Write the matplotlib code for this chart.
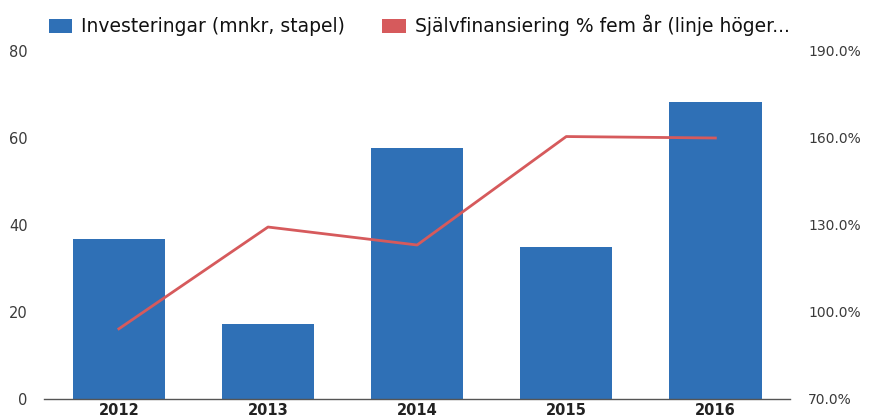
import matplotlib
matplotlib.use("Agg")
import matplotlib.pyplot as plt
from matplotlib.patches import Patch
import numpy as np

plt.rcParams['font.family'] = ['DejaVu Sans']

years = ['2012', '2013', '2014', '2015', '2016']
investeringar = [36.8, 17.2, 57.6, 34.9, 68.2]
sjalvfinansiering = [94.2, 129.3, 123.1, 160.5, 160.0]

bar_color = '#2f70b6'
line_color = '#d65a5c'
text_color = '#3a3a3a'

fig = plt.figure(figsize=(8.69, 4.2), dpi=100)
ax = fig.add_axes([0.051, 0.05, 0.858, 0.8286])
x = np.arange(len(years))

ax.bar(x, investeringar, width=0.62, color=bar_color, zorder=2)
ax.set_xlim(-0.5, len(years) - 0.5)
ax.set_ylim(0, 80)
ax.set_yticks([0, 20, 40, 60, 80])
ax.set_xticks(x)
ax.set_xticklabels(years, fontweight='bold')

ax2 = ax.twinx()
ax2.plot(x, sjalvfinansiering, color=line_color, linewidth=2, zorder=3)
ax2.set_ylim(70, 190)
ax2.set_yticks([70, 100, 130, 160, 190])
ax2.set_yticklabels(['%.1f%%' % v for v in [70, 100, 130, 160, 190]])

for a in (ax, ax2):
    for side in ('top', 'left', 'right', 'bottom'):
        a.spines[side].set_visible(False)
    a.tick_params(length=0, labelsize=10, colors=text_color)
ax.spines['bottom'].set_visible(True)
ax.spines['bottom'].set_color('#555555')
ax.spines['bottom'].set_linewidth(1)
ax.tick_params(axis='x', pad=3, colors='#222222', labelsize=10.5)
ax.tick_params(axis='y', pad=12, labelsize=10.5)
ax2.tick_params(axis='y', pad=13)

handles = [Patch(facecolor=bar_color, edgecolor='none'),
           Patch(facecolor=line_color, edgecolor='none')]
labels = ['Investeringar (mnkr, stapel)',
          'Självfinansiering % fem år (linje höger...']
fig.legend(handles, labels, loc='upper left', bbox_to_anchor=(0.037, 1.005),
           ncol=2, frameon=False, fontsize=13.5, handlelength=1.23,
           handleheight=0.75, handletextpad=0.48, columnspacing=2.0,
           labelcolor='#111111')

fig.savefig('out.png', dpi=100)
